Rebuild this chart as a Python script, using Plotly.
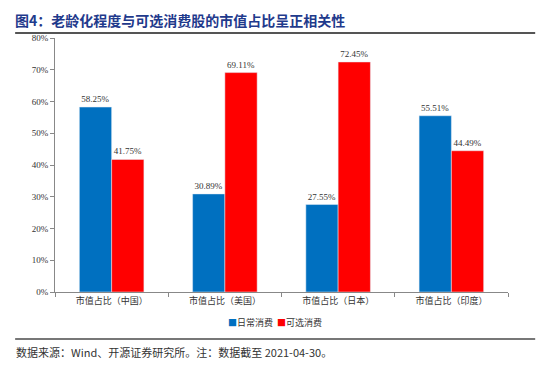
import plotly.graph_objects as go

categories = ["市值占比（中国）", "市值占比（美国）", "市值占比（日本）", "市值占比（印度）"]
staples = [58.25, 30.89, 27.55, 55.51]
discretionary = [41.75, 69.11, 72.45, 44.49]
series_names = ["日常消费", "可选消费"]
series_colors = ["#0070C0", "#FF0000"]
y_ticks = [0, 10, 20, 30, 40, 50, 60, 70, 80]

serif = "Liberation Serif, Noto Sans CJK SC, serif"

fig = go.Figure()
for vals, name, color in zip([staples, discretionary], series_names, series_colors):
    fig.add_trace(go.Bar(x=categories, y=vals, name=name, marker_color=color,
                         text=[f"{v:.2f}%" for v in vals], textposition="outside",
                         textfont=dict(size=9, color="#333", family=serif), cliponaxis=False))

fig.update_layout(
    width=542, height=359,
    margin=dict(l=47, r=42, t=30, b=75),
    paper_bgcolor="white", plot_bgcolor="white",
    barmode="group", bargap=0.43, bargroupgap=0,
    font=dict(family=serif, size=9, color="#333"),
    showlegend=False,
    xaxis=dict(showline=True, linecolor="#888", ticks="outside", tickson="boundaries",
               ticklen=4, tickcolor="#888", showgrid=False,
               tickfont=dict(size=9, family="Noto Sans CJK SC", color="#333")),
    yaxis=dict(range=[0, 80], tickvals=y_ticks, ticktext=[f"{v}%" for v in y_ticks],
               showline=True, linecolor="#888", ticks="outside", ticklen=4, tickcolor="#888",
               showgrid=False, zeroline=False, tickfont=dict(size=9, family=serif, color="#333")),
)

# legend (compact, as in reference)
legend_text = "  ".join(f"<span style='color:{c}'>■</span>{n}" for n, c in zip(series_names, series_colors))
fig.add_annotation(text=legend_text, xref="paper", yref="paper", x=0.486, xanchor="center",
                   y=-0.122, yanchor="middle", showarrow=False,
                   font=dict(size=9, color="#333", family="Noto Sans CJK SC"))

fig.add_annotation(text="<b>图4：老龄化程度与可选消费股的市值占比呈正相关性</b>", xref="paper", yref="paper",
                   x=-0.09, xanchor="left", y=1.116, yanchor="top", showarrow=False, borderpad=0,
                   font=dict(size=14, color="#1F3A8C", family="Noto Sans CJK SC"))
fig.add_shape(type="line", xref="paper", yref="paper", x0=-0.088, x1=1.06, y0=1.02, y1=1.02,
              line=dict(color="#555", width=2))
fig.add_shape(type="line", xref="paper", yref="paper", x0=-0.088, x1=1.06, y0=-0.185, y1=-0.185,
              line=dict(color="#777", width=2))
fig.add_annotation(text="数据来源：Wind、开源证券研究所。注：数据截至 2021-04-30。", xref="paper", yref="paper",
                   x=-0.09, xanchor="left", y=-0.236, yanchor="middle", showarrow=False,
                   font=dict(size=11, color="#333", family="Noto Sans CJK SC"))

fig.write_html("out.html")
